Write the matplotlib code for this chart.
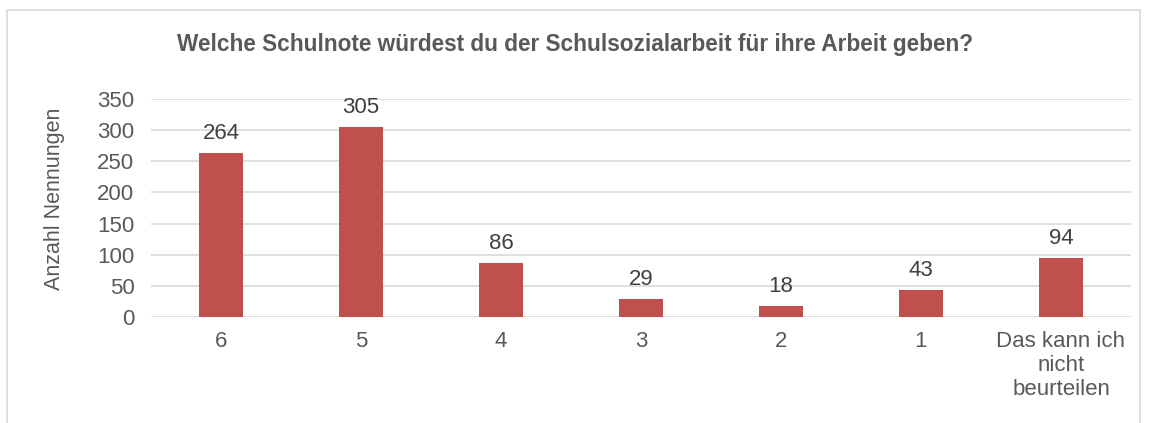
import matplotlib.pyplot as plt
from matplotlib.patches import Rectangle

# Chart data
categories = ["6", "5", "4", "3", "2", "1", "Das kann ich\nnicht\nbeurteilen"]
values = [264, 305, 86, 29, 18, 43, 94]
yticks = [0, 50, 100, 150, 200, 250, 300, 350]

title = "Welche Schulnote würdest du der Schulsozialarbeit für ihre Arbeit geben?"
ylabel = "Anzahl Nennungen"

text_color = "#595959"
bar_color = "#C0504D"
grid_color = "#D9D9D9"

plt.rcParams["font.family"] = ["Liberation Sans", "DejaVu Sans"]

fig = plt.figure(figsize=(11.51, 4.23), dpi=100)
ax = fig.add_axes([151 / 1151, 1 - 317 / 423, 980 / 1151, 218 / 423])

# chart border
fig.patches.append(Rectangle((7 / 1151, -0.1), 1133 / 1151, 1 - 10 / 423 + 0.1,
                             transform=fig.transFigure, fill=False,
                             edgecolor=grid_color, linewidth=1.2))

x = range(len(categories))
ax.bar(x, values, width=0.31, color=bar_color, zorder=3)

for xi, v in zip(x, values):
    ax.annotate(str(v), (xi, v), xytext=(0, 6.5), textcoords="offset points",
                ha="center", va="bottom", fontsize=16, color="#404040")

ax.set_xlim(-0.5, len(categories) - 0.5)
ax.set_ylim(0, 350)
ax.set_yticks(yticks)
ax.set_xticks(list(x))
ax.set_xticklabels(categories, fontsize=16, color=text_color, linespacing=1.18)
ax.tick_params(axis="y", labelsize=16, labelcolor=text_color, length=0, pad=12)
ax.tick_params(axis="x", length=0, pad=10)
ax.yaxis.grid(True, color=grid_color, linewidth=1.2, zorder=0)
for s in ax.spines.values():
    s.set_visible(False)

ax.set_ylabel(ylabel, fontsize=15.5, color=text_color, va="center")
ax.yaxis.set_label_coords(-0.098, 0.54)

fig.text(575 / 1151, 1 - 45 / 423, title, ha="center", va="center",
         fontsize=16.3, fontweight="bold", color=text_color)

fig.savefig("out.png", dpi=100)
